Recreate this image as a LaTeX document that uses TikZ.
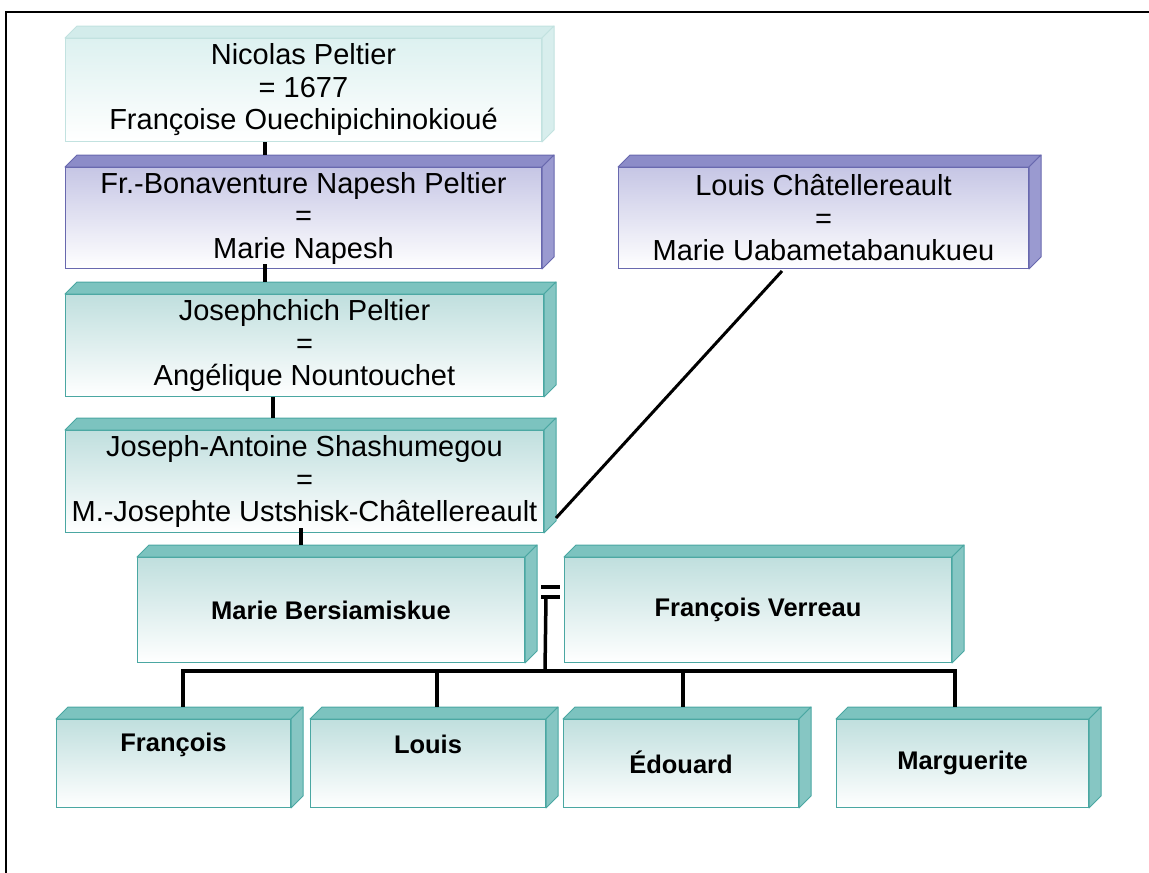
\documentclass[tikz,border=0pt]{standalone}
\usepackage{fontspec}
\setmainfont{Liberation Sans}
\usetikzlibrary{calc}
\definecolor{paleTop}{HTML}{D3ECEB}
\definecolor{paleSide}{HTML}{D8EEED}
\definecolor{paleLine}{HTML}{C2E2E0}
\definecolor{paleFront}{HTML}{DDF1F0}
\definecolor{purTop}{HTML}{8C8CC8}
\definecolor{purSide}{HTML}{9A9AD0}
\definecolor{purLine}{HTML}{6868AE}
\definecolor{purFront}{HTML}{C6C6E5}
\definecolor{tealTop}{HTML}{7CC3BF}
\definecolor{tealSide}{HTML}{86C6C3}
\definecolor{tealLine}{HTML}{4AA7A2}
\definecolor{tealFront}{HTML}{C0DFDE}
\newcommand\cubefaces[4]{%
  \filldraw[fill=#2, draw=#4, line width=1pt, line join=round] (#1.north west) -- ++(12,-12) -- ($(#1.north east)+(12,-12)$) -- (#1.north east) -- cycle;
  \filldraw[fill=#3, draw=#4, line width=1pt, line join=round] (#1.north east) -- ++(12,-12) -- ($(#1.south east)+(12,-12)$) -- (#1.south east) -- cycle;}
\begin{document}
\begin{tikzpicture}[x=1pt,y=-1pt,
  front/.style={draw, line width=1pt, inner sep=0pt, anchor=north west, align=center},
  palebox/.style={front, draw=paleLine, top color=paleFront, bottom color=white},
  purbox/.style={front, draw=purLine, top color=purFront, bottom color=white},
  tealbox/.style={front, draw=tealLine, top color=tealFront, bottom color=white},
  big/.style={font=\fontsize{29}{32.5}\selectfont},
  bld/.style={font=\fontsize{25.5}{29}\selectfont\bfseries},
  link/.style={line width=3.5pt, black}]
\useasboundingbox (0,0) rectangle (1149,873);
\draw[line width=2pt] (6,12) rectangle (1200,900);

% boxes
\node[palebox, big, minimum width=476pt, minimum height=103pt] (nic) at (65,38)
  {Nicolas Peltier\\= 1677\\Françoise Ouechipichinokioué};
\cubefaces{nic}{paleTop}{paleSide}{paleLine}
\node[purbox, big, minimum width=476pt, minimum height=101pt] (bon) at (65,167)
  {Fr.-Bonaventure Napesh Peltier\\=\\Marie Napesh};
\cubefaces{bon}{purTop}{purSide}{purLine}
\node[purbox, big, minimum width=410pt, minimum height=101pt] (lc) at (618,167)
  {Louis Châtellereault\\=\\Marie Uabametabanukueu};
\cubefaces{lc}{purTop}{purSide}{purLine}
\node[tealbox, big, minimum width=478pt, minimum height=102pt] (jc) at (65,294)
  {Josephchich Peltier\\=\\Angélique Nountouchet};
\cubefaces{jc}{tealTop}{tealSide}{tealLine}
\node[tealbox, big, minimum width=478pt, minimum height=102pt] (ja) at (65,430)
  {Joseph-Antoine Shashumegou\\=\\M.-Josephte Ustshisk-Châtellereault};
\cubefaces{ja}{tealTop}{tealSide}{tealLine}
\node[tealbox, bld, minimum width=387pt, minimum height=105pt] (mb) at (137,557) {Marie Bersiamiskue};
\cubefaces{mb}{tealTop}{tealSide}{tealLine}
\node[tealbox, bld, minimum width=387pt, minimum height=105pt] (fv) at (564,557) {François Verreau};
\cubefaces{fv}{tealTop}{tealSide}{tealLine}

\node[tealbox, minimum width=234pt, minimum height=88pt] (c1) at (56,719) {};
\cubefaces{c1}{tealTop}{tealSide}{tealLine}
\node[tealbox, minimum width=235pt, minimum height=88pt] (c2) at (310,719) {};
\cubefaces{c2}{tealTop}{tealSide}{tealLine}
\node[tealbox, minimum width=235pt, minimum height=88pt] (c3) at (563,719) {};
\cubefaces{c3}{tealTop}{tealSide}{tealLine}
\node[tealbox, minimum width=252pt, minimum height=88pt] (c4) at (836,719) {};
\cubefaces{c4}{tealTop}{tealSide}{tealLine}
\node[bld] (t1) at ([yshift=19pt]c1.center) {François};
\node[bld] (t2) at ([yshift=19pt]c2.center) {Louis};
\node[bld] (t3) at ([yshift=1pt]c3.center) {Édouard};
\node[bld] (t4) at ([yshift=1pt]c4.center) {Marguerite};

% connectors
\draw[link] ($(nic.south west)+(200,0)$) -- ($(bon.north west)+(200,-12)$);
\draw[link] ($(bon.south west)+(200,-5)$) -- ($(jc.north west)+(200,-12)$);
\draw[link] ($(jc.south west)+(208,0)$) -- ($(ja.north west)+(208,-12)$);
\draw[link] ($(ja.south west)+(236,-5)$) -- ($(mb.north west)+(164,-12)$);
\draw[line width=3pt] ($(lc.south west)+(164,2)$) -- ($(ja.south east)+(12,-15)$);
% marriage
\coordinate (eqA) at ($(mb.north east)+(16,30)$);
\coordinate (eqB) at ($(mb.north east)+(16,40)$);
\draw[link] (eqA) -- ++(19,0);
\draw[link] (eqB) -- ++(19,0);
\coordinate (bus) at (545,671);
\draw[link] ($(eqB)+(5,0)$) -- (bus);
\coordinate (busL) at (183,671);
\coordinate (busR) at (955,671);
\draw[link, line cap=rect] (busL) -- (busR);
\draw[link] (busL) -- (busL |- {$(c1.north)+(0,-12)$});
\draw[link] (437,671) -- (437,707);
\draw[link] (683,671) -- (683,707);
\draw[link] (busR) -- (955,707);
\end{tikzpicture}
\end{document}
